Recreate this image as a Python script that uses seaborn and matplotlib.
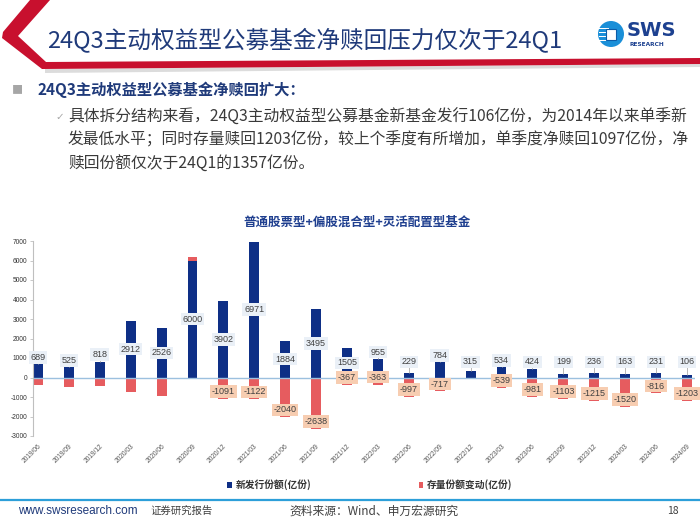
import numpy as np
import pandas as pd
import matplotlib
matplotlib.use('Agg')
import matplotlib.pyplot as plt
from matplotlib.patches import Polygon, Ellipse, Rectangle
import seaborn as sns

# ---- data ----
quarters = ['2019/06', '2019/09', '2019/12', '2020/03', '2020/06', '2020/09',
            '2020/12', '2021/03', '2021/06', '2021/09', '2021/12', '2022/03',
            '2022/06', '2022/09', '2022/12', '2023/03', '2023/06', '2023/09',
            '2023/12', '2024/03', '2024/06', '2024/09']
new_issue = [689, 525, 818, 2912, 2526, 6000, 3902, 6971, 1884, 3495, 1505, 955,
             229, 784, 315, 534, 424, 199, 236, 163, 231, 106]
stock_change = [-380, -500, -430, -760, -960, 180, -1091, -1122, -2040, -2638, -367, -363,
                -997, -717, 0, -539, -981, -1103, -1215, -1520, -816, -1203]
red_labels = ['', '', '', '', '', '', '-1091', '-1122', '-2040', '-2638', '-367', '-363',
              '-997', '-717', '', '-539', '-981', '-1103', '-1215', '-1520', '-816', '-1203']
y_ticks = list(range(-3000, 7001, 1000))

legend_new = '新发行份额(亿份)'
legend_stock = '存量份额变动(亿份)'
chart_title = '普通股票型+偏股混合型+灵活配置型基金'
slide_title = '24Q3主动权益型公募基金净赎回压力仅次于24Q1'
heading = '24Q3主动权益型公募基金净赎回扩大：'
body = ['具体拆分结构来看，24Q3主动权益型公募基金新基金发行106亿份，为2014年以来单季新',
        '发最低水平；同时存量赎回1203亿份，较上个季度有所增加，单季度净赎回1097亿份，净',
        '赎回份额仅次于24Q1的1357亿份。']

NAVY = '#0e2f86'
RED = '#e65c5f'
DARKBLUE = '#1f3a7a'

sns.set_style('white')
plt.rcParams['font.family'] = ['Noto Sans CJK SC', 'DejaVu Sans']

df = pd.DataFrame({'quarter': quarters, 'new': new_issue, 'stock': stock_change})
df['pos_total'] = df['new'] + df['stock'].clip(lower=0)
df['neg'] = df['stock'].clip(upper=0)

W, H = 700, 525
fig = plt.figure(figsize=(7, 5.25), dpi=100)

def fx(px):
    return px / W

def fy(py):
    return 1 - py / H

def poly(pts, **kw):
    fig.patches.append(Polygon([(fx(a), fy(b)) for a, b in pts], closed=True,
                               transform=fig.transFigure, **kw))

# ---- slide decoration ----
poly([(45, 69), (700, 64), (700, 67), (45, 73)], color='#dcdcdc', lw=0)
poly([(30, 0), (50, 0), (18, 36), (46, 62), (700, 58), (700, 64), (42, 69), (2, 38), (3, 32)],
     color='#c8102e', lw=0)

fig.text(fx(47), fy(40), slide_title, fontsize=17, color=DARKBLUE, va='center', ha='left')

# logo
fig.patches.append(Ellipse((fx(611), fy(34)), 26 / W, 26 / H, transform=fig.transFigure,
                           color='#1a8fd8', lw=0))
for yy in [28, 32, 36, 40]:
    fig.patches.append(Rectangle((fx(599), fy(yy + 1)), 10 / W, 1.2 / H,
                                 transform=fig.transFigure, color='white', lw=0))
fig.patches.append(Rectangle((fx(606), fy(40)), 10 / W, 11 / H, transform=fig.transFigure,
                             fc='white', ec='#0d5ca8', lw=0.8))
fig.text(fx(627), fy(31), 'SWS', fontsize=14, fontweight='bold', color='#1d4190',
         va='center', ha='left', family='DejaVu Sans')
fig.text(fx(629), fy(44), 'RESEARCH', fontsize=4.2, fontweight='bold', color='#1d4190',
         va='center', ha='left', family='DejaVu Sans')

fig.text(fx(12), fy(90), '■', fontsize=8, color='#a6a6a6', va='center', ha='left')
fig.text(fx(37), fy(90), heading, fontsize=11, fontweight='bold', color=DARKBLUE,
         va='center', ha='left')
fig.text(fx(55), fy(117), '✓', fontsize=7.5, color='#a6a6a6', va='center', ha='left',
         family=['DejaVu Sans'])
for i, line in enumerate(body):
    fig.text(fx(68), fy(117 + i * 23.5), line, fontsize=11.35, color='#3a3a3a',
             va='center', ha='left')

# footer
fig.lines.append(plt.Line2D([0, 1], [fy(500), fy(500)], transform=fig.transFigure,
                            color='#2d9fd9', lw=1.6))
fig.text(fx(18), fy(511), 'www.swsresearch.com', fontsize=8.5, color=DARKBLUE,
         va='center', ha='left', family=['Liberation Sans Narrow', 'Liberation Sans'])
fig.text(fx(150), fy(511), '证券研究报告', fontsize=7.5, color='#404040', va='center', ha='left')
fig.text(fx(289), fy(511), '资料来源：Wind、申万宏源研究', fontsize=8.5, color='#404040',
         va='center', ha='left')
fig.text(fx(667), fy(511), '18', fontsize=7.5, color='#404040', va='center', ha='left')

fig.text(fx(357), fy(222), chart_title, fontsize=9, fontweight='bold', color='#1f3f8f',
         va='center', ha='center')

# ---- chart ----
ax = fig.add_axes([fx(33), fy(436), (695 - 33) / W, 195 / H])
sns.barplot(data=df, x='quarter', y='pos_total', order=quarters, color=RED, width=0.32,
            saturation=1, linewidth=0, ax=ax)
sns.barplot(data=df, x='quarter', y='neg', order=quarters, color=RED, width=0.32,
            saturation=1, linewidth=0, ax=ax, label=legend_stock)
sns.barplot(data=df, x='quarter', y='new', order=quarters, color=NAVY, width=0.32,
            saturation=1, linewidth=0, ax=ax, label=legend_new)

ax.axhline(0, color='#9cc0df', lw=1, zorder=1)

for i, v in enumerate(new_issue):
    ly = v / 2 if v >= 1500 else max(v + 350, 800)
    if ly - v > 300:
        ax.plot([i, i], [v, ly - 250], color='#9a9a9a', lw=0.5, zorder=3)
    ax.text(i, ly, str(v), ha='center', va='center', fontsize=6.5, color='#404040', zorder=5,
            family='Liberation Sans',
            bbox=dict(boxstyle='square,pad=0.2', fc='#eaf0f7', ec='none'))
for i, (v, lab) in enumerate(zip(stock_change, red_labels)):
    if lab:
        ax.text(i, v + 380, lab, ha='center', va='center', fontsize=6.5, color='#404040',
                zorder=5, family='Liberation Sans',
                bbox=dict(boxstyle='square,pad=0.2', fc='#f7cdb1', ec='none'))

ax.set_xlim(-0.16, 21.26)
ax.set_ylim(-3000, 7000)
ax.set_yticks(y_ticks)
ax.set_yticklabels([str(t) for t in y_ticks], fontsize=4.8, color='#333333',
                   family='Liberation Sans')
ax.set_xticks(range(len(quarters)))
ax.set_xticklabels(quarters, rotation=45, ha='right', rotation_mode='anchor', fontsize=4.8,
                   color='#555555', family='Liberation Sans')
ax.tick_params(axis='x', length=0, pad=5)
ax.tick_params(axis='y', length=2, width=0.6, color='#bfbfbf', pad=2, left=True)
ax.set_xlabel('')
ax.set_ylabel('')
for s in ['top', 'right', 'bottom']:
    ax.spines[s].set_visible(False)
ax.spines['left'].set_color('#bfbfbf')
ax.spines['left'].set_linewidth(0.8)

h, l = ax.get_legend_handles_labels()
order = [l.index(legend_new), l.index(legend_stock)]
leg = ax.legend([h[k] for k in order], [l[k] for k in order], loc='center',
                bbox_to_anchor=(fx(370), fy(485)), bbox_transform=fig.transFigure,
                ncol=2, frameon=False, fontsize=7, handlelength=0.5, handleheight=0.5,
                handletextpad=0.4, columnspacing=11)
for t in leg.get_texts():
    t.set_fontweight('bold')
    t.set_color('#333333')

fig.savefig('out.png', dpi=100)
